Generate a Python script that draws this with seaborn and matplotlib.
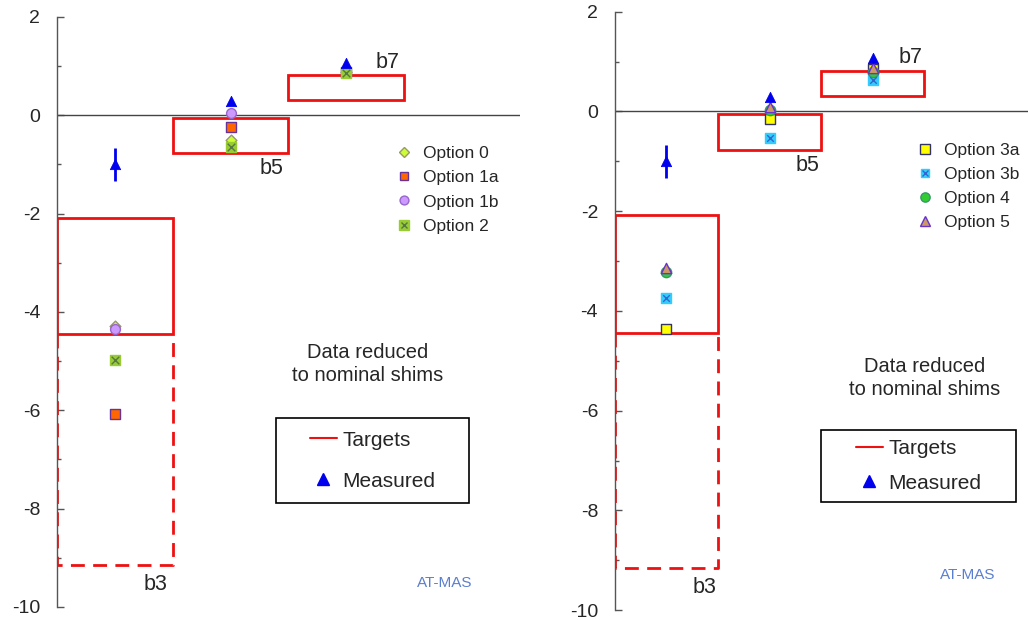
import numpy as np
import pandas as pd
import matplotlib.pyplot as plt
import seaborn as sns
from matplotlib.lines import Line2D
from matplotlib.patches import Rectangle, Shadow
from matplotlib.legend_handler import HandlerTuple

# shim bins and target windows
BINS = ["b3", "b5", "b7"]
BIN_POS = [1, 2, 3]
TARGET_LO = [-4.45, -0.77, 0.32]
TARGET_HI = [-2.08, -0.06, 0.81]
TARGET_EXT_LO = [-9.15, None, None]  # dashed extension below b3 window

# measured values (left / right figure read separately)
MEASURED_LEFT = [-1.0, 0.29, 1.06]
MEASURED_RIGHT = [-1.0, 0.30, 1.07]
MEASURED_ERR = [0.33, 0.0, 0.0]

OPTIONS_LEFT = ["Option 0", "Option 1a", "Option 1b", "Option 2"]
OPT0 = [-4.28, -0.51, 0.88]
OPT1A = [-6.07, -0.24, 0.88]
OPT1B = [-4.35, 0.04, 0.88]
OPT2 = [-4.98, -0.64, 0.86]

OPTIONS_RIGHT = ["Option 3a", "Option 3b", "Option 4", "Option 5"]
OPT3A = [-4.37, -0.16, 0.86]
OPT3B = [-3.75, -0.53, 0.64]
OPT4 = [-3.22, 0.02, 0.80]
OPT5 = [-3.13, 0.10, 0.88]

# marker styles: (marker, face, edge, overlay x colour, size)
STYLE = {
    "Option 0": ("D", "#ccff33", "#999966", None, 30),
    "Option 1a": ("s", "#ff6600", "#663399", None, 45),
    "Option 1b": ("o", "#cc99ff", "#9966cc", None, 50),
    "Option 2": ("s", "#99cc33", "#99cc33", "#557744", 60),
    "Option 3a": ("s", "#ffff00", "#333366", None, 60),
    "Option 3b": ("s", "#33ccff", "#33ccff", "#3366cc", 45),
    "Option 4": ("o", "#33cc33", "#339966", None, 55),
    "Option 5": ("^", "#cc9966", "#6633cc", None, 55),
}

sns.set_theme(style="white")
plt.rcParams["font.family"] = ["Liberation Sans", "DejaVu Sans"]
plt.rcParams["axes.unicode_minus"] = False


def draw_targets(ax):
    for x, lo, hi, ext in zip(BIN_POS, TARGET_LO, TARGET_HI, TARGET_EXT_LO):
        ax.add_patch(Rectangle((x - 0.5, lo), 1.0, hi - lo, fill=False,
                               edgecolor="#ee1111", linewidth=2, zorder=2))
        if ext is not None:
            ax.plot([x - 0.5, x - 0.5, x + 0.5, x + 0.5], [lo, ext, ext, lo],
                    color="#ee1111", linewidth=2, linestyle=(0, (5, 3)), zorder=2)


def draw_options(ax, names, series):
    handles = []
    for name, vals in zip(names, series):
        mk, face, edge, xcol, s = STYLE[name]
        df = pd.DataFrame({"x": BIN_POS, "y": vals})
        sns.scatterplot(data=df, x="x", y="y", marker=mk, color=face,
                        edgecolor=edge, linewidth=1, s=s, ax=ax, zorder=4)
        h = Line2D([], [], marker=mk, color="none", markerfacecolor=face,
                   markeredgecolor=edge, markersize=np.sqrt(s) * 0.9)
        if xcol is not None:
            sns.scatterplot(data=df, x="x", y="y", marker="x", color=xcol,
                            linewidth=1, s=s * 0.5, ax=ax, zorder=5)
            hx = Line2D([], [], marker="x", color="none", markeredgecolor=xcol,
                        markersize=np.sqrt(s) * 0.65)
            h = (h, hx)
        handles.append(h)
    return handles


fig = plt.figure(figsize=(10.28, 6.2), dpi=100)
ax_l = fig.add_axes([0.0554, 0.021, 0.4504, 0.9516])
ax_r = fig.add_axes([0.598, 0.016, 0.4017, 0.965])

panels = [
    (ax_l, OPTIONS_LEFT, [OPT0, OPT1A, OPT1B, OPT2], MEASURED_LEFT,
     (0.715, 0.793), (0.473, 0.176, 0.417, 0.144), 1.05, (0.67, 0.412), (0.838, 0.041)),
    (ax_r, OPTIONS_RIGHT, [OPT3A, OPT3B, OPT4, OPT5], MEASURED_RIGHT,
     (0.714, 0.793), (0.50, 0.181, 0.471, 0.12), 0.75, (0.75, 0.388), (0.855, 0.059)),
]

for ax, names, series, measured, leg_anchor, box, lspace, note_xy, atmas_xy in panels:
    draw_targets(ax)
    ax.axhline(0, color="#444444", linewidth=1, zorder=1)
    opt_handles = draw_options(ax, names, series)

    ax.errorbar(BIN_POS, measured, yerr=MEASURED_ERR, fmt="none",
                ecolor="#0000ee", elinewidth=2, capsize=0, zorder=6)
    sns.scatterplot(x=BIN_POS, y=measured, marker="^", color="#0000ee",
                    edgecolor="#0000ee", s=55, ax=ax, zorder=6)

    for x, lab, lo, hi, ext in zip(BIN_POS, BINS, TARGET_LO, TARGET_HI, TARGET_EXT_LO):
        if ext is not None:
            ty = ext - 0.4
        elif hi > 0.5:
            ty = hi + 0.27
        else:
            ty = lo - 0.32
        ax.text(x + 0.25, ty, lab, fontsize=15.5, va="center", ha="left")

    leg1 = ax.legend(opt_handles, names, loc="upper left", bbox_to_anchor=leg_anchor,
                     frameon=False, fontsize=12.5, handlelength=1.0,
                     handletextpad=0.6, labelspacing=0.52, borderaxespad=0,
                     handler_map={tuple: HandlerTuple(ndivide=1, pad=0)})
    ax.add_artist(leg1)

    # framed legend box for targets / measured
    frame = Rectangle((box[0], box[1]), box[2], box[3], transform=ax.transAxes,
                      facecolor="white", edgecolor="black", linewidth=1.2, zorder=7)
    shadow = Shadow(frame, 3, -3, facecolor="#111111", alpha=0.9, zorder=6.9)
    ax.add_patch(shadow)
    ax.add_patch(frame)
    tgt = [Line2D([], [], color="#ee1111", linewidth=1.5),
           Line2D([], [], marker="^", color="none", markerfacecolor="#0000ee",
                  markeredgecolor="#0000ee", markersize=8)]
    leg2 = ax.legend(tgt, ["Targets", "Measured"], loc="center",
                     bbox_to_anchor=(box[0] + box[2] / 2, box[1] + box[3] / 2),
                     frameon=False, fontsize=15, handlelength=1.3,
                     handletextpad=0.25, labelspacing=lspace, borderaxespad=0)
    leg2.set_zorder(8)

    ax.text(note_xy[0], note_xy[1], "Data reduced\nto nominal shims", transform=ax.transAxes,
            ha="center", va="center", fontsize=14.5, linespacing=1.25)
    ax.text(atmas_xy[0], atmas_xy[1], "AT-MAS", transform=ax.transAxes,
            ha="center", va="center", fontsize=11, color="#5b7fd0")

    ax.set_xlim(0.5, 4.5)
    ax.set_ylim(-10, 2)
    ax.set_yticks(np.arange(-10, 3, 2))
    ax.set_yticks(np.arange(-9, 2, 2), minor=True)
    ax.set_xticks([])
    ax.set_xlabel("")
    ax.set_ylabel("")
    ax.tick_params(axis="y", which="major", direction="in", length=5, width=1,
                   color="#555555", labelsize=14, pad=12, left=True)
    ax.tick_params(axis="y", which="minor", direction="in", length=3, width=1,
                   color="#555555", left=True)
    for side in ["top", "right", "bottom"]:
        ax.spines[side].set_visible(False)
    ax.spines["left"].set_color("#555555")
    ax.spines["left"].set_linewidth(1)
    ax.patch.set_alpha(0)

fig.savefig("out.png", dpi=100, facecolor="white")
